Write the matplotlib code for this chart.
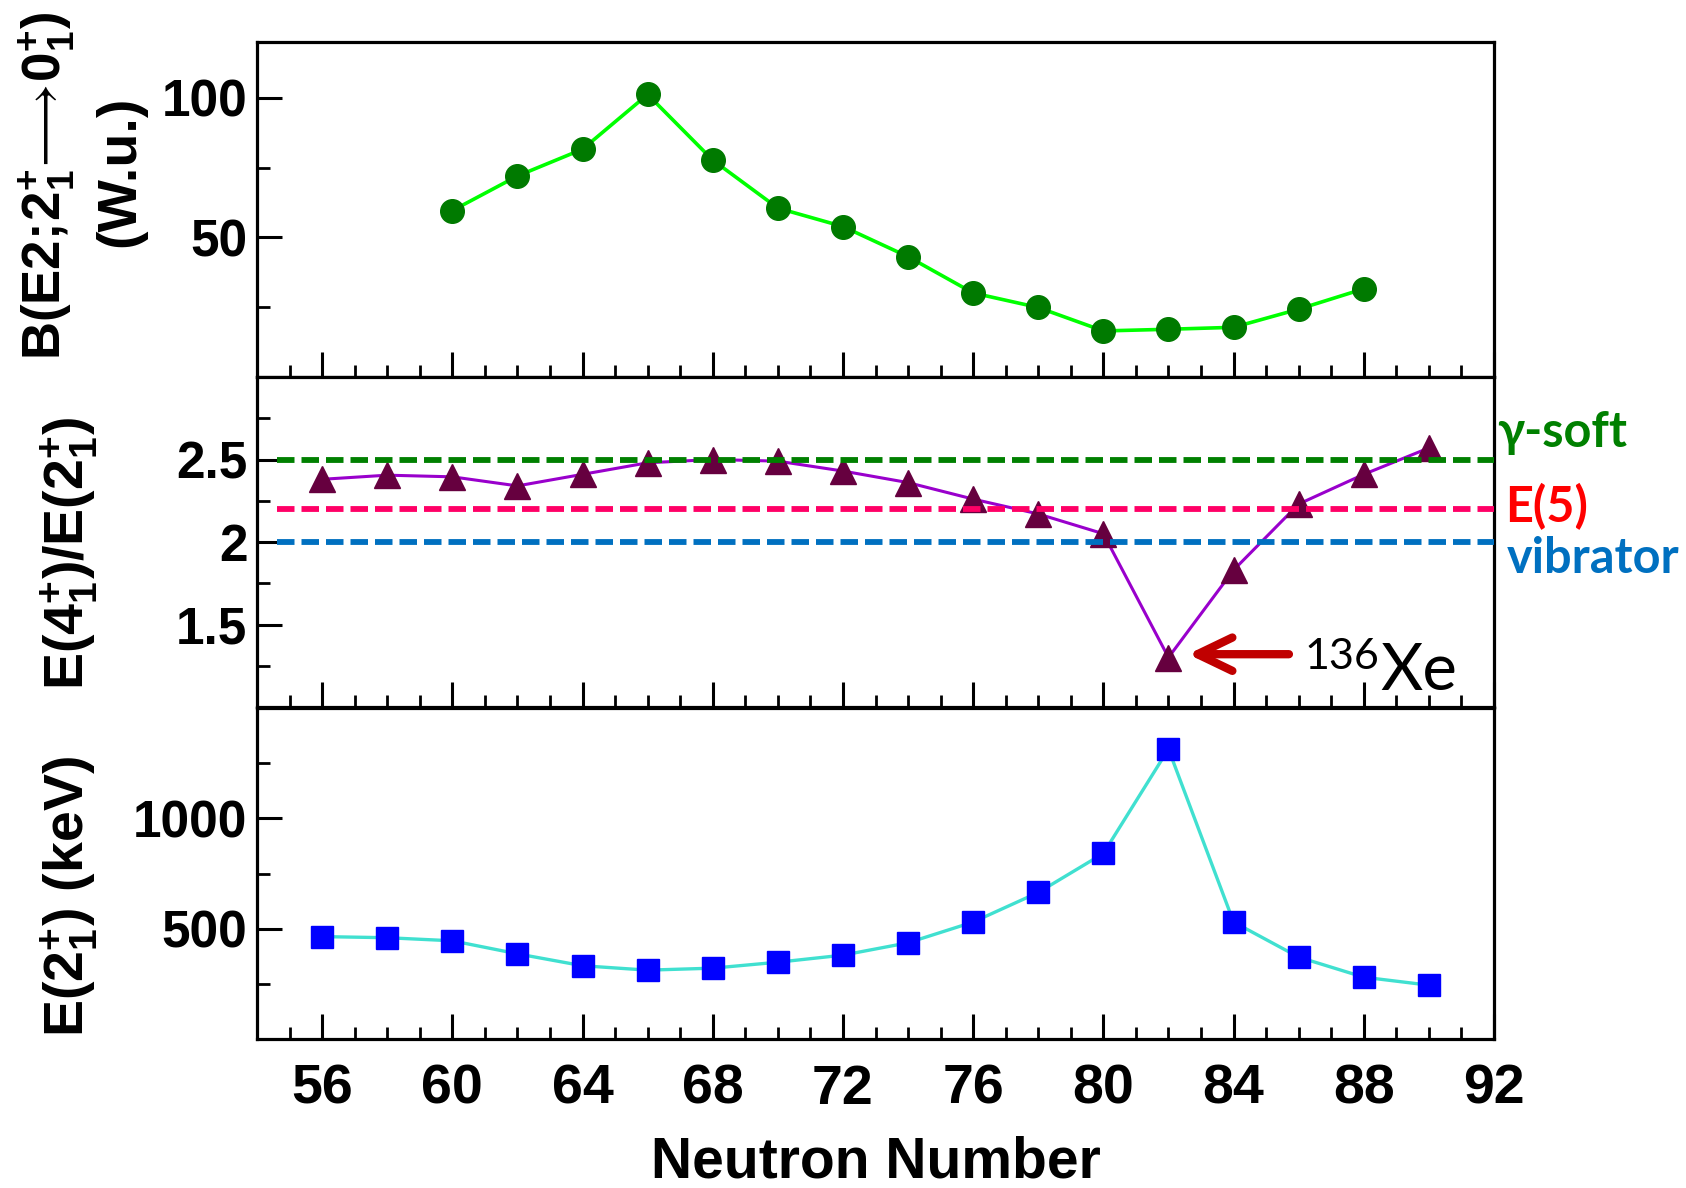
import matplotlib
matplotlib.use("Agg")
import matplotlib.pyplot as plt
from matplotlib.ticker import FixedLocator, FuncFormatter

# ---- data -------------------------------------------------------------
neutrons_be2 = [60, 62, 64, 66, 68, 70, 72, 74, 76, 78, 80, 82, 84, 86, 88]
be2_wu = [59.6, 72.0, 81.6, 101.2, 77.7, 60.5, 53.9, 43.1, 30.1, 24.9,
          16.5, 17.1, 17.8, 24.3, 31.6]

neutrons = [56, 58, 60, 62, 64, 66, 68, 70, 72, 74, 76, 78, 80, 82, 84, 86, 88, 90]
ratio_e4_e2 = [2.38, 2.405, 2.395, 2.34, 2.41, 2.48, 2.50, 2.49, 2.43, 2.36,
               2.26, 2.17, 2.05, 1.30, 1.83, 2.23, 2.41, 2.57]
e2_kev = [464, 459, 445, 386, 332, 312, 321, 348, 380, 436,
          530, 664, 841, 1314, 530, 371, 280, 244]

model_names = ["\u03b3-soft", "E(5)", "vibrator"]
model_ratios = [2.5, 2.2, 2.0]
model_colors = ["#008000", "#ff0066", "#0070c0"]
model_text_colors = ["#008000", "#ff0000", "#0070c0"]

x_ticks = [56, 60, 64, 68, 72, 76, 80, 84, 88, 92]

# ---- style ------------------------------------------------------------
plt.rcParams["mathtext.fontset"] = "custom"
plt.rcParams["mathtext.rm"] = "Liberation Sans:bold"
plt.rcParams["mathtext.bf"] = "Liberation Sans:bold"
plt.rcParams["mathtext.it"] = "Liberation Sans:bold"
plt.rcParams["mathtext.sf"] = "Liberation Sans:bold"
plt.rcParams["mathtext.fallback"] = "stixsans"

W, H = 1686, 1188
fig = plt.figure(figsize=(W / 100, H / 100), dpi=100)
fig.patch.set_facecolor("white")

left, right = 257 / W, 1494 / W
panel_px = [(42, 377), (377, 707), (708, 1039)]
axes = []
for top_px, bot_px in panel_px:
    ax = fig.add_axes([left, 1 - bot_px / H, right - left, (bot_px - top_px) / H])
    axes.append(ax)
ax_be2, ax_rat, ax_e2 = axes


def style_axis(ax, ymin, ymax, majors, minors, fmt):
    ax.set_xlim(54, 92)
    ax.set_ylim(ymin, ymax)
    for s in ax.spines.values():
        s.set_linewidth(2.3)
    ax.xaxis.set_major_locator(FixedLocator(x_ticks))
    ax.xaxis.set_minor_locator(FixedLocator(range(54, 93)))
    ax.yaxis.set_major_locator(FixedLocator(majors))
    ax.yaxis.set_minor_locator(FixedLocator(minors))
    ax.yaxis.set_major_formatter(FuncFormatter(fmt))
    ax.tick_params(axis="both", which="major", direction="in", length=18,
                   width=2.2, top=False, right=False)
    ax.tick_params(axis="both", which="minor", direction="in", length=9,
                   width=2.0, top=False, right=False)
    ax.tick_params(axis="y", which="major", labelsize=37, pad=7)
    ax.tick_params(axis="x", which="major", labelsize=40, pad=18)
    for lab in ax.get_yticklabels() + ax.get_xticklabels():
        lab.set_fontfamily("Liberation Sans")
        lab.set_fontweight("bold")


style_axis(ax_be2, 0, 120, [50, 100], [25, 75], lambda v, p: f"{v:g}")
style_axis(ax_rat, 1.0, 3.0, [1.5, 2.0, 2.5], [1.25, 1.75, 2.25, 2.75],
           lambda v, p: f"{v:g}")
style_axis(ax_e2, 0, 1500, [500, 1000], [250, 750, 1250], lambda v, p: f"{v:g}")
ax_be2.tick_params(axis="x", labelbottom=False)
ax_rat.tick_params(axis="x", labelbottom=False)
for lab in ax_e2.get_xticklabels():
    lab.set_fontfamily("Liberation Sans")
    lab.set_fontweight("bold")

# ---- B(E2) panel ------------------------------------------------------
ax_be2.plot(neutrons_be2, be2_wu, color="#00ff00", lw=2.6, zorder=2)
ax_be2.plot(neutrons_be2, be2_wu, ls="none", marker="o", ms=17,
            mfc="#007a00", mec="#007a00", zorder=3)

# ---- E(4)/E(2) panel --------------------------------------------------
ax_rat.plot(neutrons, ratio_e4_e2, color="#9900cc", lw=2.2, zorder=2)
ax_rat.plot(neutrons, ratio_e4_e2, ls="none", marker="^", ms=19,
            mfc="#66003f", mec="#66003f", zorder=3)
for val, col in zip(model_ratios, model_colors):
    ax_rat.plot([54.6, 92], [val, val], color=col, lw=4.2,
                dashes=(3.0, 1.2), zorder=4)

text_pos = [(1497, 447), (1505, 522), (1507, 573)]
for name, col, (px, py) in zip(model_names, model_text_colors, text_pos):
    fig.text(px / W, 1 - py / H, name, color=col, fontsize=35,
             family=["Lato", "DejaVu Sans"], weight="bold",
             ha="left", va="baseline")

# 136Xe marker
ax_rat.annotate("", xy=(82.6, 1.32), xytext=(85.7, 1.32),
                arrowprops=dict(arrowstyle="->,head_length=1.25,head_width=0.6",
                                color="#c00000", lw=6, mutation_scale=20,
                                capstyle="round", joinstyle="round",
                                shrinkA=0, shrinkB=0), zorder=5)
ax_rat.text(86.18, 1.233, "136", fontsize=31, family=["Lato", "DejaVu Sans"],
            ha="left", va="baseline", color="black", clip_on=False)
ax_rat.text(88.5, 1.10, "Xe", fontsize=47, family=["Lato", "DejaVu Sans"],
            ha="left", va="baseline", color="black", clip_on=False)

# ---- E(2+) panel ------------------------------------------------------
ax_e2.plot(neutrons, e2_kev, color="#40e0d0", lw=2.4, zorder=2)
ax_e2.plot(neutrons, e2_kev, ls="none", marker="s", ms=16.5,
           mfc="#0000ff", mec="#0000ff", zorder=3)

# ---- axis titles ------------------------------------------------------
fig.text(47 / W, 1 - 186 / H,
         r"$\mathbf{B(E2;\!2^{+}_{1}}\!\longrightarrow\!\mathbf{0^{+}_{1})}$",
         rotation=90, fontsize=38, ha="center", va="center")
fig.text(120 / W, 1 - 171 / H, "(W.u.)", rotation=90, fontsize=40,
         family="Liberation Sans", weight="bold", ha="center", va="center")
fig.text(70 / W, 1 - 553 / H, r"$\mathbf{E(4^{+}_{1})/E(2^{+}_{1})}$",
         rotation=90, fontsize=40, ha="center", va="center")
fig.text(70 / W, 1 - 897 / H, r"$\mathbf{E(2^{+}_{1})\ (keV)}$",
         rotation=90, fontsize=40, ha="center", va="center")
fig.text(876 / W, 1 - 1163 / H, "Neutron Number", fontsize=41,
         family="Liberation Sans", weight="bold", ha="center", va="center")

fig.savefig("out.png", dpi=100, facecolor="white")
